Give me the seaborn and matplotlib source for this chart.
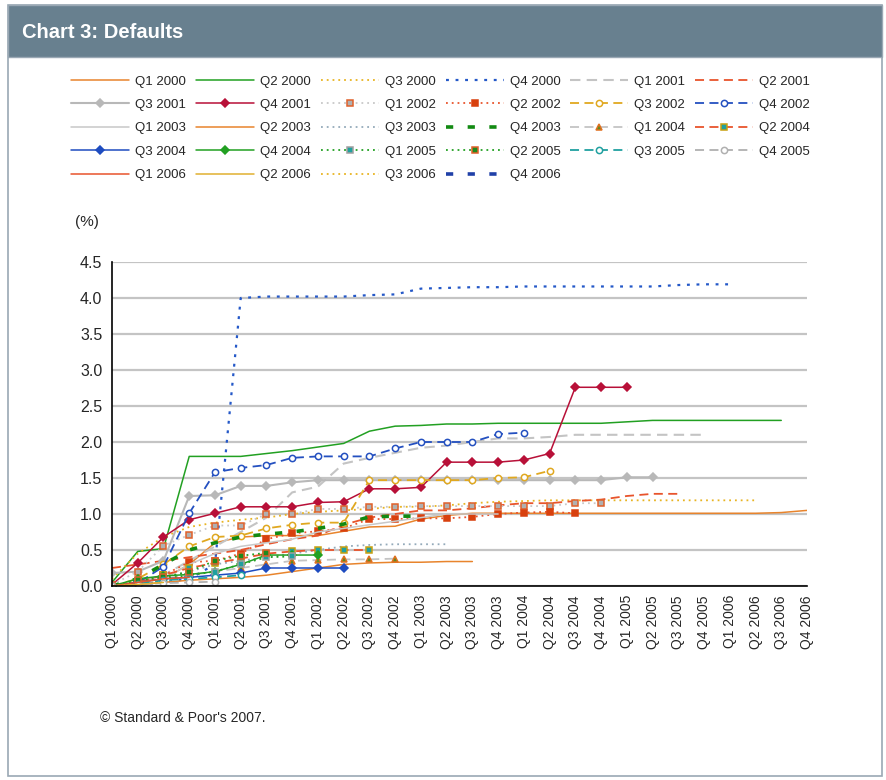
import matplotlib
matplotlib.use("Agg")
import matplotlib.pyplot as plt
import seaborn as sns
from matplotlib.patches import Rectangle

# ---------------------
# Data (cumulative defaults by issue quarter, %)
# ---------------------
quarters = [f"Q{q} {y}" for y in range(2000, 2007) for q in range(1, 5)]

q1_2000 = [0.0, 0.05, 0.1, 0.3, 0.6, 0.68, 0.7, 0.7, 0.7, 0.76, 0.82, 0.83, 0.93, 0.98,
           1.01, 1.01, 1.01, 1.01, 1.01, 1.01, 1.01, 1.01, 1.01, 1.01, 1.01, 1.01, 1.02, 1.05]
q2_2000 = [0.05, 0.48, 0.52, 1.8, 1.8, 1.8, 1.84, 1.88, 1.93, 1.98, 2.15, 2.22, 2.23, 2.25,
           2.25, 2.26, 2.26, 2.26, 2.26, 2.26, 2.28, 2.3, 2.3, 2.3, 2.3, 2.3, 2.3]
q3_2000 = [0.1, 0.45, 0.68, 0.82, 0.88, 0.92, 0.95, 1.0, 1.03, 1.05, 1.07, 1.1, 1.1, 1.12,
           1.15, 1.17, 1.18, 1.19, 1.19, 1.19, 1.19, 1.19, 1.19, 1.19, 1.19, 1.19]
q4_2000 = [0.0, 0.02, 0.05, 0.1, 0.3, 4.0, 4.02, 4.02, 4.02, 4.02, 4.04, 4.05, 4.13,
           4.14, 4.15, 4.15, 4.16, 4.16, 4.16, 4.16, 4.16, 4.16, 4.18, 4.19, 4.19]
q1_2001 = [0.0, 0.05, 0.15, 0.35, 0.55, 0.75, 0.95, 1.3, 1.38, 1.7, 1.78, 1.85, 1.92,
           1.95, 2.0, 2.05, 2.05, 2.07, 2.1, 2.1, 2.1, 2.1, 2.1, 2.1]
q2_2001 = [0.25, 0.3, 0.35, 0.4, 0.45, 0.5, 0.58, 0.65, 0.7, 0.85, 0.95, 1.0, 1.05, 1.05,
           1.08, 1.12, 1.15, 1.15, 1.18, 1.2, 1.25, 1.28, 1.28]
q3_2001 = [0.18, 0.2, 0.35, 1.25, 1.26, 1.39, 1.39, 1.44, 1.47, 1.47, 1.47, 1.47, 1.47,
           1.47, 1.47, 1.47, 1.47, 1.47, 1.47, 1.47, 1.51, 1.51]
q4_2001 = [0.02, 0.32, 0.68, 0.92, 1.01, 1.1, 1.1, 1.1, 1.16, 1.17, 1.35, 1.35, 1.37,
           1.72, 1.72, 1.72, 1.75, 1.84, 2.76, 2.76, 2.76]
q1_2002 = [0.02, 0.2, 0.56, 0.71, 0.84, 0.84, 1.0, 1.0, 1.07, 1.07, 1.1, 1.1, 1.11, 1.11,
           1.11, 1.11, 1.11, 1.11, 1.15, 1.15]
q2_2002 = [0.0, 0.05, 0.15, 0.33, 0.35, 0.45, 0.65, 0.73, 0.76, 0.8, 0.93, 0.93, 0.94,
           0.94, 0.96, 1.0, 1.02, 1.03, 1.01]
q3_2002 = [0.0, 0.1, 0.3, 0.55, 0.68, 0.7, 0.8, 0.85, 0.88, 0.88, 1.47, 1.47, 1.47, 1.47,
           1.47, 1.5, 1.51, 1.6]
q4_2002 = [0.0, 0.04, 0.27, 1.01, 1.58, 1.64, 1.68, 1.78, 1.8, 1.8, 1.8, 1.91, 2.0, 2.0,
           2.0, 2.11, 2.13]
q1_2003 = [0.0, 0.05, 0.1, 0.3, 0.45, 0.55, 0.6, 0.65, 0.75, 0.8, 0.85, 0.9, 0.95, 1.0,
           1.0, 1.0]
q2_2003 = [0.0, 0.02, 0.05, 0.08, 0.1, 0.12, 0.15, 0.2, 0.25, 0.3, 0.32, 0.33, 0.33, 0.34, 0.34]
q3_2003 = [0.0, 0.05, 0.12, 0.2, 0.3, 0.35, 0.4, 0.45, 0.5, 0.55, 0.57, 0.58, 0.58, 0.58]
q4_2003 = [0.0, 0.1, 0.3, 0.5, 0.6, 0.68, 0.72, 0.75, 0.8, 0.86, 0.96, 0.97, 0.97]
q1_2004 = [0.0, 0.05, 0.1, 0.15, 0.2, 0.25, 0.3, 0.35, 0.36, 0.37, 0.37, 0.38]
q2_2004 = [0.0, 0.05, 0.15, 0.25, 0.32, 0.38, 0.45, 0.48, 0.5, 0.5, 0.5]
q3_2004 = [0.0, 0.05, 0.1, 0.12, 0.15, 0.18, 0.25, 0.25, 0.25, 0.25]
q4_2004 = [0.0, 0.1, 0.14, 0.16, 0.2, 0.3, 0.43, 0.43, 0.43]
q1_2005 = [0.0, 0.05, 0.1, 0.15, 0.2, 0.3, 0.4, 0.41]
q2_2005 = [0.0, 0.08, 0.12, 0.2, 0.35, 0.42, 0.46]
q3_2005 = [0.0, 0.03, 0.08, 0.1, 0.12, 0.15]
q4_2005 = [0.0, 0.02, 0.04, 0.05, 0.06]
q1_2006 = [0.0, 0.05, 0.1, 0.12]
q2_2006 = [0.0, 0.02, 0.05]
q3_2006 = [0.0, 0.02]
q4_2006 = [0.0]

series = [q1_2000, q2_2000, q3_2000, q4_2000, q1_2001, q2_2001, q3_2001, q4_2001,
          q1_2002, q2_2002, q3_2002, q4_2002, q1_2003, q2_2003, q3_2003, q4_2003,
          q1_2004, q2_2004, q3_2004, q4_2004, q1_2005, q2_2005, q3_2005, q4_2005,
          q1_2006, q2_2006, q3_2006, q4_2006]

# ---------------------
# Styles: color, linestyle, marker, face, edge, lw, ms
# ---------------------
DOT = (0, (1, 2.2))
WIDE_DOT = (0, (1.3, 3))
DASH = (0, (5, 3))
THICK = (0, (2, 4))
styles = [
    ("#E8842C", "-", None, None, None, 1.1, 0),
    ("#22A022", "-", None, None, None, 1.1, 0),
    ("#E8B422", DOT, None, None, None, 1.3, 0),
    ("#2458C8", WIDE_DOT, None, None, None, 1.6, 0),
    ("#C4C4C4", DASH, None, None, None, 1.5, 0),
    ("#E8542C", DASH, None, None, None, 1.3, 0),
    ("#B8B8B8", "-", "D", "#B8B8B8", "#B8B8B8", 1.5, 4),
    ("#B81038", "-", "D", "#B81038", "#B81038", 1.1, 4),
    ("#C8C8C8", DOT, "s", "#B0B0B0", "#E0602A", 1.3, 5),
    ("#E8542C", DOT, "s", "#D8400E", "#D8400E", 1.3, 5),
    ("#E0A820", DASH, "o", "white", "#E0A820", 1.3, 4.5),
    ("#2450C0", DASH, "o", "white", "#2450C0", 1.3, 4.5),
    ("#C8C8C8", "-", None, None, None, 1.1, 0),
    ("#E8842C", "-", None, None, None, 1.1, 0),
    ("#94AABA", DOT, None, None, None, 1.3, 0),
    ("#128A12", THICK, None, None, None, 2.6, 0),
    ("#C4C4C4", DASH, "^", "#5E8A1E", "#E07020", 1.3, 5),
    ("#E8542C", DASH, "s", "#20A0A0", "#C8A010", 1.3, 5),
    ("#1E4CC0", "-", "D", "#1E4CC0", "#1E4CC0", 1.1, 4),
    ("#22A022", "-", "D", "#22A022", "#22A022", 1.1, 4),
    ("#22A022", DOT, "s", "#20A0A0", "#A0A0A0", 1.3, 5),
    ("#22A022", DOT, "s", "#1E8A1E", "#E0602A", 1.3, 5),
    ("#20A0A0", DASH, "o", "white", "#20A0A0", 1.3, 4.5),
    ("#B0B0B0", DASH, "o", "white", "#B0B0B0", 1.3, 4.5),
    ("#E8542C", "-", None, None, None, 1.1, 0),
    ("#E0B030", "-", None, None, None, 1.1, 0),
    ("#E8B422", DOT, None, None, None, 1.3, 0),
    ("#2040A8", THICK, None, None, None, 2.6, 0),
]

# ---------------------
# Figure
# ---------------------
sns.set_style("white")
plt.rcParams["font.family"] = ["Liberation Sans", "DejaVu Sans"]

fig = plt.figure(figsize=(8.86, 7.80), dpi=100)
W, H = 886, 780

# outer frame and title bar
fig.patches.append(Rectangle((8 / W, 1 - 776 / H), 874 / W, 771 / H, transform=fig.transFigure,
                             facecolor="none", edgecolor="#9AA8B4", lw=1.2, zorder=0))
fig.patches.append(Rectangle((8 / W, 1 - 57 / H), 874 / W, 52 / H, transform=fig.transFigure,
                             facecolor="#68808F", edgecolor="#9AA8B4", lw=1.0, zorder=1))
fig.text(22 / W, 1 - 32 / H, "Chart 3: Defaults", color="white", fontsize=14.5, fontweight="bold",
         family=["Liberation Sans Narrow", "Liberation Sans", "DejaVu Sans"], va="center", ha="left")

ax = fig.add_axes([112 / W, 1 - 586 / H, (807 - 112) / W, (586 - 262) / H])

for name, vals, st in zip(quarters, series, styles):
    color, ls, mk, mfc, mec, lw, ms = st
    kws = dict(color=color, linestyle=ls, linewidth=lw, label=name)
    if mk:
        kws.update(marker=mk, markersize=ms, markerfacecolor=mfc, mec=mec, mew=1.1)
    sns.lineplot(x=list(range(len(vals))), y=vals, ax=ax, **kws)

handles, labels = ax.get_legend_handles_labels()
if ax.get_legend():
    ax.get_legend().remove()

ax.set_xlim(0, 27)
ax.set_ylim(0, 4.5)
ax.set_yticks([0, 0.5, 1.0, 1.5, 2.0, 2.5, 3.0, 3.5, 4.0, 4.5])
ax.set_yticklabels([f"{v:.1f}" for v in ax.get_yticks()], fontsize=11.5)
ax.set_xticks(range(len(quarters)))
ax.set_xticklabels(quarters, rotation=90, fontsize=10)
ax.yaxis.grid(True, color="#C4C4C4", lw=1.6)
ax.set_axisbelow(True)
for side in ["top", "right"]:
    ax.spines[side].set_visible(False)
for side in ["left", "bottom"]:
    ax.spines[side].set_color("black")
    ax.spines[side].set_linewidth(1.2)
ax.tick_params(axis="x", direction="inout", length=7, width=1, pad=3)
ax.tick_params(axis="y", direction="out", length=4, width=1, pad=3)
ax.set_xlabel("")
ax.set_ylabel("")

fig.text(75 / W, 1 - 222 / H, "(%)", fontsize=11, va="center", ha="left")
fig.text(100 / W, 1 - 718 / H, "\u00a9 Standard & Poor's 2007.", fontsize=10, va="center", ha="left")

# legend: row-major order in 6 columns
ncol = 6
nrow = 5
order = []
for c in range(ncol):
    for r in range(nrow):
        i = r * ncol + c
        if i < len(handles):
            order.append(i)
fig.legend([handles[i] for i in order], [labels[i] for i in order], ncol=ncol,
           loc="upper left", bbox_to_anchor=(66 / W, 1 - 70 / H), frameon=False,
           fontsize=9.5, handlelength=4.4, handletextpad=0.45, columnspacing=0.75,
           labelspacing=0.85, borderaxespad=0)

fig.savefig("out.png", dpi=100)
